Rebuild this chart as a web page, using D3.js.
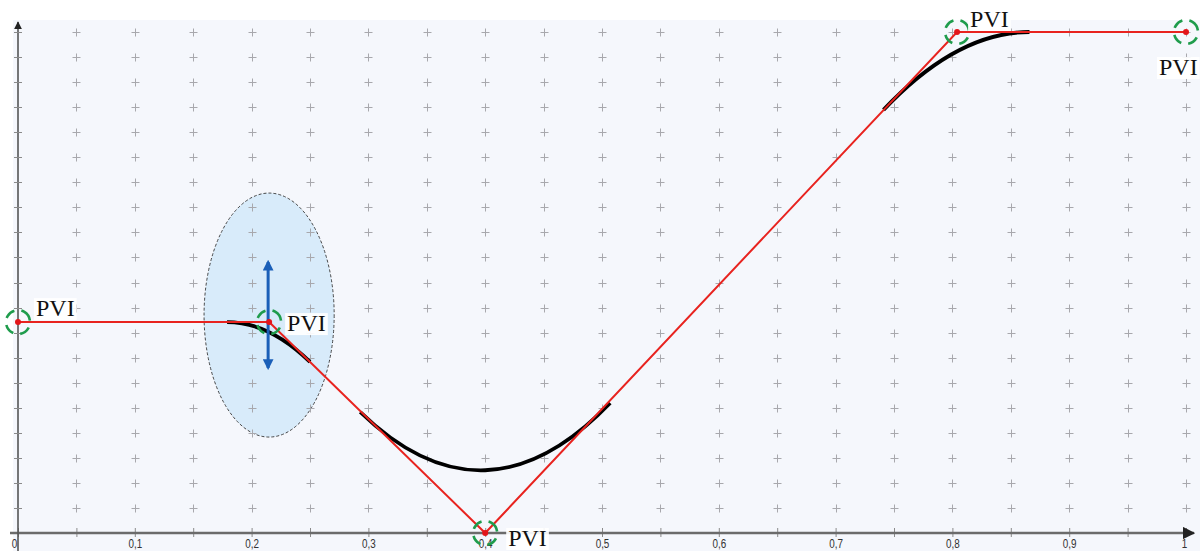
<!DOCTYPE html>
<html><head><meta charset="utf-8">
<script src="https://cdn.jsdelivr.net/npm/d3@7"></script>
<style>html,body{margin:0;padding:0;background:#fff;}svg{display:block;}</style>
</head><body>
<svg id="chart" width="1200" height="551"></svg>
<script>
// ---- data ----
const xTickValues = [0,0.05,0.1,0.15,0.2,0.25,0.3,0.35,0.4,0.45,0.5,0.55,0.6,0.65,0.7,0.75,0.8,0.85,0.9,0.95,1];
const xTickLabels = ["0","0,1","0,2","0,3","0,4","0,5","0,6","0,7","0,8","0,9","1"];
const yGridValues = [1,2,3,4,5,6,7,8,9,10,11,12,13,14,15,16,17,18,19,20];
const pviStation = [0, 0.215, 0.4, 0.804, 1];
const pviElev = [8.42, 8.42, 0, 20, 20];
const pviLabel = ["PVI","PVI","PVI","PVI","PVI"];
// vertical curves: begin (BVC) / end (EVC) stations & elevations, PVI index
const curvePvi = [1, 2, 3];
const bvcStation = [0.179, 0.293, 0.741];
const bvcElev = [8.42, 4.83, 16.89];
const evcStation = [0.250, 0.507, 0.866];
const evcElev = [6.83, 5.19, 20];
// highlighted zone around adjustable PVI
const zoneCenter = [0.215, 8.70];
const zoneRadii = [0.0557, 4.87];
const arrowRange = [10.82, 6.59];

// ---- scales ----
const svg = d3.select("#chart");
const x = d3.scaleLinear().domain([0,1]).range([18,1186]);
const y = d3.scaleLinear().domain([0,20]).range([533,32]);

const defs = svg.append("defs");
defs.append("marker").attr("id","axArrow").attr("viewBox","0 0 10 10").attr("refX",9).attr("refY",5)
  .attr("markerWidth",5).attr("markerHeight",5).attr("orient","auto-start-reverse").attr("markerUnits","strokeWidth")
  .append("path").attr("d","M0,0L10,5L0,10Z").attr("fill","#222");
defs.append("marker").attr("id","blueArrow").attr("viewBox","0 0 10 10").attr("refX",8).attr("refY",5)
  .attr("markerWidth",3.6).attr("markerHeight",3.6).attr("orient","auto-start-reverse").attr("markerUnits","strokeWidth")
  .append("path").attr("d","M0,0L10,5L0,10Z").attr("fill","#1a5fb8");

// background
svg.append("rect").attr("x",13).attr("y",20).attr("width",1187).attr("height",531).attr("fill","#f5f7fc");

// highlight ellipse
svg.append("ellipse")
  .attr("cx", x(zoneCenter[0])).attr("cy", y(zoneCenter[1]))
  .attr("rx", x(zoneRadii[0]) - x(0)).attr("ry", y(0) - y(zoneRadii[1]))
  .attr("fill","#d8ebfa").attr("stroke","#333").attr("stroke-width",0.9).attr("stroke-dasharray","3,2");

// grid crosses
const gCross = svg.append("g").attr("stroke","#a8a8ad").attr("stroke-width",1);
xTickValues.filter(v => v > 0).forEach(xv => {
  yGridValues.forEach(yv => {
    const cx = Math.round(x(xv)) + 0.5, cy = Math.round(y(yv)) + 0.5;
    gCross.append("line").attr("x1",cx-4).attr("x2",cx+4).attr("y1",cy).attr("y2",cy);
    gCross.append("line").attr("x1",cx).attr("x2",cx).attr("y1",cy-4).attr("y2",cy+4);
  });
});

// x axis
const xAxis = d3.axisBottom(x).tickValues(xTickValues).tickSize(0).tickFormat("");
const gx = svg.append("g").attr("transform",`translate(0,${y(0)})`).call(xAxis);
gx.select(".domain").remove();
svg.append("line").attr("x1",10).attr("x2",1194).attr("y1",y(0)).attr("y2",y(0))
  .attr("stroke","#6b6b6b").attr("stroke-width",2.5).attr("marker-end","url(#axArrow)");
gx.selectAll(".tick").append("line").attr("y1",-5).attr("y2",4).attr("stroke","#8a8a8a").attr("stroke-width",1);
gx.selectAll(".tick").filter((d,i) => i % 2 === 0).append("text")
  .text(d => xTickLabels[Math.round(d*10)])
  .attr("fill","#333").attr("font-family","Liberation Sans, Arial, sans-serif").attr("font-size",13)
  .attr("text-anchor","middle")
  .attr("transform", d => `translate(${d === 0 ? -4 : (d === 1 ? -2 : 0)},14.5) scale(0.76,1)`);

// y axis
svg.append("line").attr("x1",x(0)).attr("x2",x(0)).attr("y1",551).attr("y2",22)
  .attr("stroke","#555").attr("stroke-width",1.6).attr("marker-end","url(#axArrow)");
const gy = svg.append("g");
yGridValues.forEach(yv => {
  gy.append("line").attr("x1",x(0)-4).attr("x2",x(0)+4).attr("y1",Math.round(y(yv))+0.5).attr("y2",Math.round(y(yv))+0.5)
    .attr("stroke","#8a8a8a").attr("stroke-width",1);
});

// black vertical curves (parabolic: quadratic with control point at PVI)
curvePvi.forEach((pi, i) => {
  const p = d3.path();
  p.moveTo(x(bvcStation[i]), y(bvcElev[i]));
  p.quadraticCurveTo(x(pviStation[pi]), y(pviElev[pi]), x(evcStation[i]), y(evcElev[i]));
  svg.append("path").attr("d", p.toString()).attr("fill","none").attr("stroke","#000").attr("stroke-width",3.8);
});

// red tangent polyline
const line = d3.line().x((d,i) => x(pviStation[i])).y((d,i) => y(pviElev[i]));
svg.append("path").attr("d", line(pviStation)).attr("fill","none").attr("stroke","#e8231f").attr("stroke-width",2);

// blue double arrow
svg.append("line").attr("x1", x(zoneCenter[0]) - 1).attr("x2", x(zoneCenter[0]) - 1)
  .attr("y1", y(arrowRange[1]) ).attr("y2", y(arrowRange[0]))
  .attr("stroke","#1a5fb8").attr("stroke-width",3)
  .attr("marker-start","url(#blueArrow)").attr("marker-end","url(#blueArrow)");

// PVI markers
const labelOffsets = [[18,-6],[18,9],[23,13],[13,-5],[-27,43]];
pviStation.forEach((s, i) => {
  const px = x(s), py = y(pviElev[i]);
  svg.append("circle").attr("cx",px).attr("cy",py).attr("r",12).attr("fill","none")
    .attr("stroke","#1f9c4c").attr("stroke-width",2.6).attr("stroke-dasharray","11,7")
    .attr("transform",`rotate(-60,${px},${py})`);
  svg.append("circle").attr("cx",px).attr("cy",py).attr("r",3).attr("fill","#e3151a");
});
pviStation.forEach((s, i) => {
  const px = x(s) + labelOffsets[i][0], py = y(pviElev[i]) + labelOffsets[i][1];
  const g = svg.append("g");
  const bg = g.append("rect");
  const t = g.append("text").attr("x",px).attr("y",py).text(pviLabel[i])
    .attr("font-family","Liberation Serif, Times New Roman, serif").attr("font-size",24).attr("fill","#111");
  const bb = t.node().getBBox();
  bg.attr("x",bb.x-2).attr("y",bb.y+3).attr("width",bb.width+4).attr("height",Math.min(bb.height-4, 551-(bb.y+3)))
    .attr("fill","#fff").attr("opacity",0.92);
});
</script>
</body></html>
